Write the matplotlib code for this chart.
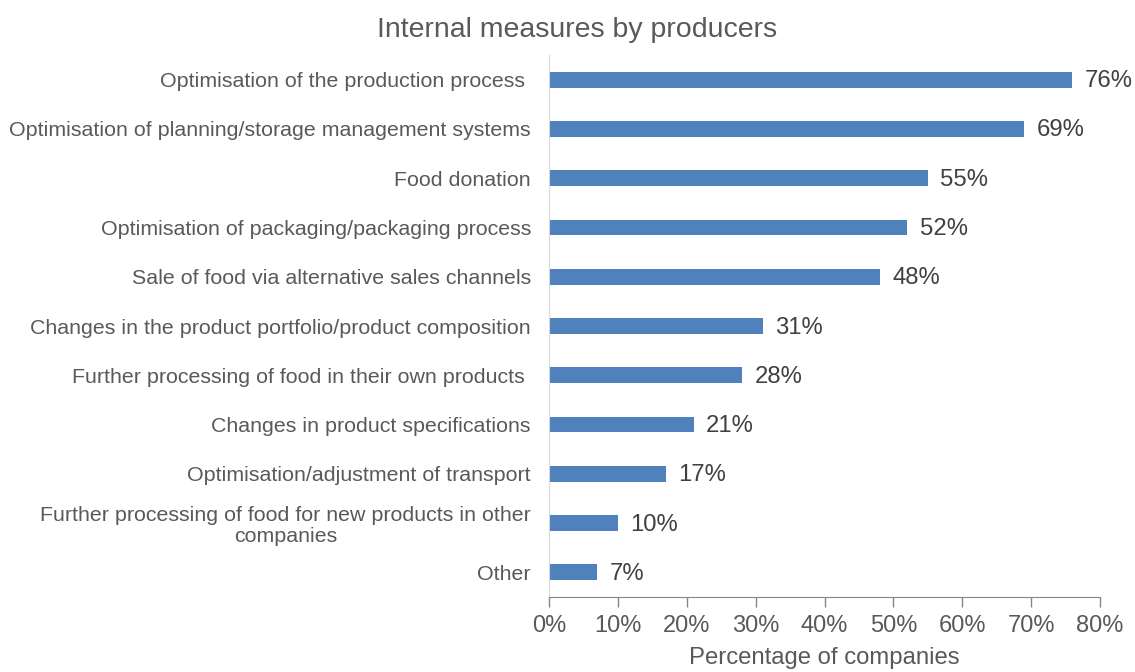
import matplotlib.pyplot as plt
from matplotlib.ticker import PercentFormatter

plt.rcParams['font.family'] = ['Liberation Sans', 'DejaVu Sans']

measures = [
    'Optimisation of the production process ',
    'Optimisation of planning/storage management systems',
    'Food donation',
    'Optimisation of packaging/packaging process',
    'Sale of food via alternative sales channels',
    'Changes in the product portfolio/product composition',
    'Further processing of food in their own products ',
    'Changes in product specifications',
    'Optimisation/adjustment of transport',
    'Further processing of food for new products in other\ncompanies',
    'Other',
]
shares = [76, 69, 55, 52, 48, 31, 28, 21, 17, 10, 7]

text_col = '#595959'
bar_col = '#4F81BD'

fig = plt.figure(figsize=(11.35, 6.72), dpi=100)
ax = fig.add_axes([0.4837, 0.1116, 0.4855, 0.8064])

ypos = list(range(len(measures)))
ax.barh(ypos, shares, height=0.32, color=bar_col)

for y, v in zip(ypos, shares):
    ax.text(v + 1.8, y + 0.03, f'{v}%', va='center', ha='left',
            fontsize=17.2, color='#404040')

ax.set_xlim(0, 80)
ax.set_ylim(len(measures) - 0.5, -0.5)
ax.set_xticks(range(0, 81, 10))
ax.xaxis.set_major_formatter(PercentFormatter(decimals=0))
ax.set_yticks(ypos)
ax.set_yticklabels(measures, multialignment='center', linespacing=1.15)

ax.tick_params(axis='y', length=0, pad=13, labelsize=15.4, labelcolor=text_col)
ax.tick_params(axis='x', length=7, width=1, color='#868686', pad=6,
               labelsize=17, labelcolor=text_col)

for side in ['top', 'right']:
    ax.spines[side].set_visible(False)
ax.spines['left'].set_color('#D9D9D9')
ax.spines['bottom'].set_color('#868686')

ax.set_xlabel('Percentage of companies', fontsize=17.2, color=text_col, labelpad=7)
fig.text(0.508, 0.955, 'Internal measures by producers', ha='center', va='center',
         fontsize=20.5, color=text_col)

fig.savefig('out.png', dpi=100)
